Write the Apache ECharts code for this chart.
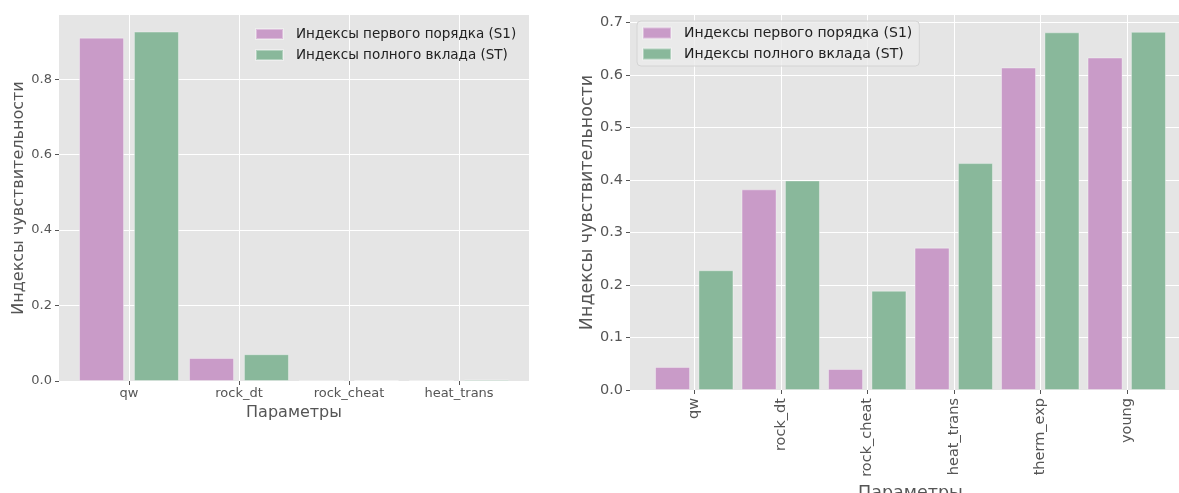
<!DOCTYPE html>
<html>
<head>
<meta charset="utf-8">
<script src="https://cdn.jsdelivr.net/npm/echarts@6/dist/echarts.min.js"></script>
<style>
  html, body { margin: 0; padding: 0; background: #fff; }
  #chart { width: 1179px; height: 493px; }
</style>
</head>
<body>
<div id="chart"></div>
<script>
// данные (левый график)
var leftCats = ['qw', 'rock_dt', 'rock_cheat', 'heat_trans'];
var leftS1 = [0.910, 0.061, 0.0005, 0.001];
var leftST = [0.926, 0.071, 0.002, 0.004];
// данные (правый график)
var rightCats = ['qw', 'rock_dt', 'rock_cheat', 'heat_trans', 'therm_exp', 'young'];
var rightS1 = [0.044, 0.382, 0.040, 0.271, 0.614, 0.633];
var rightST = [0.228, 0.399, 0.189, 0.432, 0.681, 0.682];

var nameS1 = 'Индексы первого порядка (S1)';
var nameST = 'Индексы полного вклада (ST)';
var xName = 'Параметры';
var yName = 'Индексы чувствительности';

var colS1 = '#c99bc8';
var colST = '#89b89b';
var font = 'DejaVu Sans';

function fmt(v) { return v.toFixed(1); }

// ось Y с подписями (фоновая сетка)
function bgYAxis(grid, max, step, fs, gap) {
    return {
        type: 'value', gridIndex: grid, min: 0, max: max, interval: step,
        name: yName, nameLocation: 'middle', nameGap: gap,
        nameTextStyle: { color: '#555', fontSize: fs + 3, fontFamily: font },
        axisLine: { show: false },
        axisTick: { show: true, length: 4, lineStyle: { color: '#555' } },
        axisLabel: { color: '#555', fontSize: fs, fontFamily: font, margin: 7, formatter: fmt, showMaxLabel: false },
        splitLine: { show: true, showMaxLine: false, lineStyle: { color: '#fff', width: 1 } }
    };
}
function hiddenY(grid, max) {
    return { type: 'value', gridIndex: grid, min: 0, max: max, show: false, splitLine: { show: false } };
}
function hiddenX(grid) {
    return { type: 'value', gridIndex: grid, show: false, min: 0, max: 1, splitLine: { show: false } };
}
function catXAxis(grid, cats, fs, rotate, margin, nameGap) {
    return {
        type: 'category', gridIndex: grid, data: cats,
        name: xName, nameLocation: 'middle', nameGap: nameGap,
        nameTextStyle: { color: '#555', fontSize: fs + 3, fontFamily: font },
        axisLine: { show: false },
        axisTick: { show: true, alignWithLabel: true, length: 4, lineStyle: { color: '#555' } },
        axisLabel: { color: '#555', fontSize: fs, fontFamily: font, rotate: rotate, margin: margin, interval: 0 },
        splitLine: { show: true, alignWithLabel: true, lineStyle: { color: '#fff', width: 1 } }
    };
}
function bars(name, data, color, xi, yi, w, gap) {
    return {
        name: name, type: 'bar', xAxisIndex: xi, yAxisIndex: yi, data: data,
        barWidth: w, barGap: gap,
        itemStyle: { color: color, borderColor: 'rgba(255,255,255,0.35)', borderWidth: 1 }
    };
}

var myChart = echarts.init(document.getElementById('chart'));
myChart.setOption({
    animation: false,
    textStyle: { fontFamily: font },
    grid: [
        { left: 59, top: 15, width: 470, height: 366, show: true, backgroundColor: '#e5e5e5', borderWidth: 0, outerBoundsMode: 'none' },
        { left: 74, top: 15, width: 440, height: 366, outerBoundsMode: 'none' },
        { left: 630, top: 15, width: 560, height: 375, show: true, backgroundColor: '#e5e5e5', borderWidth: 0, outerBoundsMode: 'none' },
        { left: 651, top: 15, width: 519, height: 375, outerBoundsMode: 'none' }
    ],
    xAxis: [
        hiddenX(0),
        catXAxis(1, leftCats, 13, 0, 6, 24),
        hiddenX(2),
        catXAxis(3, rightCats, 14.5, 90, 8, 92)
    ],
    yAxis: [
        bgYAxis(0, 0.97, 0.2, 13, 32),
        hiddenY(1, 0.97),
        bgYAxis(2, 0.714, 0.1, 14.5, 34),
        hiddenY(3, 0.714)
    ],
    legend: [
        {
            orient: 'vertical', left: 250, top: 23, padding: [4, 5, 4, 5], itemGap: 7,
            itemWidth: 27, itemHeight: 10, icon: 'rect',
            textStyle: { color: '#222', fontSize: 13.5, fontFamily: font, padding: [0, 0, 0, 8] },
            data: [nameS1, nameST]
        },
        {
            orient: 'vertical', left: 637, top: 21, padding: [5, 7, 5, 5], itemGap: 7,
            itemWidth: 28, itemHeight: 11, icon: 'rect',
            backgroundColor: 'rgba(235,235,235,0.8)', borderColor: '#d4d4d4', borderWidth: 1, borderRadius: 4,
            textStyle: { color: '#222', fontSize: 14, fontFamily: font, padding: [0, 0, 0, 8] },
            data: [nameS1, nameST]
        }
    ],
    series: [
        bars(nameS1, leftS1, colS1, 1, 1, 45, '22%'),
        bars(nameST, leftST, colST, 1, 1, 45, '22%'),
        bars(nameS1, rightS1, colS1, 3, 3, 35, '24%'),
        bars(nameST, rightST, colST, 3, 3, 35, '24%')
    ]
});
</script>
</body>
</html>
